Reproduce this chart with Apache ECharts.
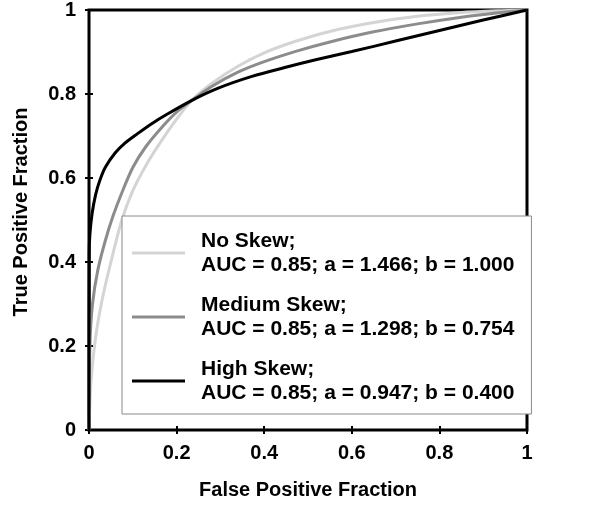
<!DOCTYPE html>
<html>
<head>
<meta charset="utf-8">
<script src="https://cdn.jsdelivr.net/npm/echarts@6/dist/echarts.min.js"></script>
<style>
html,body{margin:0;padding:0;background:#fff;}
#chart{width:600px;height:505px;}
</style>
</head>
<body>
<div id="chart"></div>
<script>
// Points (false positive fraction, true positive fraction)
var noSkewFPF = [0, 0.005, 0.015, 0.03, 0.05, 0.075, 0.1, 0.13, 0.16, 0.2, 0.235, 0.28, 0.34, 0.4, 0.47, 0.55, 0.65, 0.75, 0.85, 0.93, 1];
var noSkewTPF = [0, 0.12, 0.22, 0.31, 0.40, 0.50, 0.57, 0.63, 0.68, 0.74, 0.785, 0.825, 0.866, 0.898, 0.925, 0.949, 0.970, 0.985, 0.994, 0.998, 1];

var mediumSkewFPF = [0, 0.002, 0.008, 0.02, 0.037, 0.055, 0.075, 0.1, 0.13, 0.17, 0.2, 0.235, 0.28, 0.34, 0.4, 0.47, 0.55, 0.65, 0.75, 0.85, 0.93, 1];
var mediumSkewTPF = [0, 0.20, 0.30, 0.38, 0.45, 0.51, 0.565, 0.625, 0.675, 0.725, 0.757, 0.785, 0.818, 0.852, 0.877, 0.901, 0.924, 0.948, 0.967, 0.983, 0.993, 1];

var highSkewFPF = [0, 0.0005, 0.002, 0.007, 0.015, 0.025, 0.037, 0.06, 0.082, 0.11, 0.144, 0.18, 0.235, 0.295, 0.372, 0.447, 0.52, 0.6, 0.7, 0.8, 0.9, 1];
var highSkewTPF = [0, 0.42, 0.465, 0.515, 0.56, 0.595, 0.625, 0.66, 0.683, 0.705, 0.73, 0.753, 0.785, 0.814, 0.842, 0.863, 0.882, 0.901, 0.926, 0.951, 0.976, 1];

var seriesNames = ['No Skew', 'Medium Skew', 'High Skew'];
var legendLabels = [
  'No Skew;\nAUC = 0.85; a = 1.466; b = 1.000',
  'Medium Skew;\nAUC = 0.85; a = 1.298; b = 0.754',
  'High Skew;\nAUC = 0.85; a = 0.947; b = 0.400'
];
var xTitle = 'False Positive Fraction';
var yTitle = 'True Positive Fraction';

var FONT = '"Liberation Sans", Arial, Helvetica, sans-serif';

function pairs(xs, ys) {
  var out = [];
  for (var i = 0; i < xs.length; i++) out.push([xs[i], ys[i]]);
  return out;
}

var tickStyle = {inside: true, length: 4, lineStyle: {color: '#000', width: 2}};
var labelStyle = {fontSize: 20, fontWeight: 'bold', color: '#000', fontFamily: FONT};

var chart = echarts.init(document.getElementById('chart'), null, {renderer: 'canvas'});
chart.setOption({
  animation: false,
  backgroundColor: '#fff',
  grid: {left: 89, top: 9, right: 73, bottom: 75, show: true, borderColor: '#000', borderWidth: 3, backgroundColor: 'transparent'},
  xAxis: [{
    type: 'value', min: 0, max: 1, interval: 0.2,
    name: xTitle, nameLocation: 'middle', nameGap: 50,
    nameTextStyle: {fontSize: 20, fontWeight: 'bold', color: '#000', fontFamily: FONT},
    axisLine: {show: false}, axisTick: tickStyle,
    axisLabel: Object.assign({margin: 13}, labelStyle),
    splitLine: {show: false}
  }, {
    type: 'value', position: 'top', min: 0, max: 1, interval: 0.2,
    axisLine: {show: false}, axisTick: tickStyle, axisLabel: {show: false}, splitLine: {show: false}
  }],
  yAxis: [{
    type: 'value', min: 0, max: 1, interval: 0.2,
    name: yTitle, nameLocation: 'middle', nameGap: 58, nameRotate: 90,
    nameTextStyle: {fontSize: 20, fontWeight: 'bold', color: '#000', fontFamily: FONT, padding: [0, 0, 0, 16]},
    axisLine: {show: false}, axisTick: tickStyle,
    axisLabel: Object.assign({margin: 13}, labelStyle),
    splitLine: {show: false}
  }, {
    type: 'value', position: 'right', min: 0, max: 1, interval: 0.2,
    axisLine: {show: false}, axisTick: tickStyle, axisLabel: {show: false}, splitLine: {show: false}
  }],
  legend: {
    orient: 'vertical', left: 122, top: 216,
    data: seriesNames,
    icon: 'rect', itemWidth: 53, itemHeight: 3, itemGap: 16,
    backgroundColor: '#fff', borderColor: '#8a8a8a', borderWidth: 1, borderRadius: 0,
    padding: [13, 17, 9, 10],
    formatter: function (name) { return legendLabels[seriesNames.indexOf(name)]; },
    textStyle: {fontSize: 21, fontWeight: 'bold', color: '#000', fontFamily: FONT, lineHeight: 24, padding: [0, 0, 0, 11]}
  },
  series: [
    {name: seriesNames[0], type: 'line', data: pairs(noSkewFPF, noSkewTPF), showSymbol: false, symbol: 'none', smooth: 0.3, color: '#d4d4d4', lineStyle: {color: '#d4d4d4', width: 3}, z: 2},
    {name: seriesNames[1], type: 'line', data: pairs(mediumSkewFPF, mediumSkewTPF), showSymbol: false, symbol: 'none', smooth: 0.3, color: '#8c8c8c', lineStyle: {color: '#8c8c8c', width: 3}, z: 3},
    {name: seriesNames[2], type: 'line', data: pairs(highSkewFPF, highSkewTPF), showSymbol: false, symbol: 'none', smooth: 0.3, color: '#000', lineStyle: {color: '#000', width: 3}, z: 4}
  ]
});
</script>
</body>
</html>
